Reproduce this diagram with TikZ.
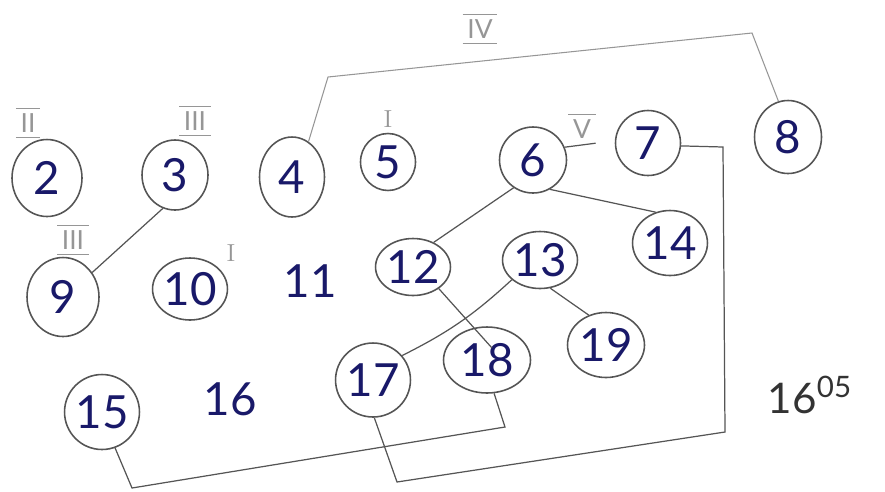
\documentclass[tikz,border=0pt]{standalone}
\usepackage{fontspec}
\setsansfont{Lato}
\usetikzlibrary{shapes.geometric}
\definecolor{inkblue}{RGB}{25,25,105}
\definecolor{pencil}{RGB}{85,85,85}
\definecolor{faintpencil}{RGB}{150,150,150}

\begin{document}
\begin{tikzpicture}[x=0.02cm,y=-0.02cm,
  vtx/.style 2 args={ellipse,draw=pencil,line width=0.9pt,inner sep=0pt,
    minimum width=#1,minimum height=#2,text=inkblue,
    font=\sffamily\fontsize{26}{26}\selectfont},
  num/.style={text=inkblue,font=\sffamily\fontsize{26}{26}\selectfont},
  rom/.style={text=faintpencil,inner sep=2.5pt,font=\sffamily\fontsize{15}{15}\selectfont},
  overbar/.style={append after command={(\tikzlastnode.north west) edge[faintwire] (\tikzlastnode.north east)}},
  barred/.style={overbar,append after command={(\tikzlastnode.south west) edge[faintwire] (\tikzlastnode.south east)}},
  wire/.style={draw=pencil,line width=0.7pt},
  faintwire/.style={draw=faintpencil,line width=0.6pt}]
\useasboundingbox (0,0) rectangle (885,491);
  % vertices
  \node[vtx={1.4cm}{1.54cm}]  (n2)  at (47,178)  {2};
  \node[vtx={1.32cm}{1.4cm}]  (n3)  at (175,175) {3};
  \node[vtx={1.3cm}{1.6cm}]   (n4)  at (292,177) {4};
  \node[vtx={1.1cm}{1.14cm}]  (n5)  at (388,162) {5};
  \node[vtx={1.34cm}{1.32cm}] (n6)  at (533,160) {6};
  \node[vtx={1.3cm}{1.3cm}]   (n7)  at (648,143) {7};
  \node[vtx={1.34cm}{1.46cm}] (n8)  at (788,137) {8};
  \node[vtx={1.44cm}{1.58cm}] (n9)  at (63,297)  {9};
  \node[vtx={1.3cm}{1.24cm}]  (n10) at (190,289) {10};
  \node[num]                  (n11) at (310,281) {11};
  \node[vtx={1.26cm}{1.14cm}] (n12) at (413,267) {12};
  \node[vtx={1.3cm}{1.14cm}]  (n13) at (540,260) {13};
  \node[vtx={1.36cm}{1.3cm}]  (n14) at (670,243) {14};
  \node[vtx={1.46cm}{1.5cm}]  (n15) at (102,412) {15};
  \node[num]                  (n16) at (230,399) {16};
  \node[vtx={1.34cm}{1.48cm}] (n17) at (373,380) {17};
  \node[vtx={1.74cm}{1.32cm}] (n18) at (487,360) {18};
  \node[vtx={1.54cm}{1.3cm}]  (n19) at (606,345) {19};
  % level marks
  \node[rom,barred]  (r2)  at (28,123)  {II};
  \node[rom,barred]  (r3)  at (195,121) {III};
  \node[rom,barred]  (r9)  at (73,240)  {III};
  \node[rom,barred]  (r8)  at (480,29)  {IV};
  \node[rom,overbar] (r6)  at (582,129) {V};
  \node[rom,font=\rmfamily\fontsize{14}{14}\selectfont] (r5)  at (388,119) {I};
  \node[rom,font=\rmfamily\fontsize{14}{14}\selectfont] (r10) at (231,253) {I};
  \node[text=black!80,font=\sffamily\fontsize{24}{24}\selectfont] (tot) at (810,395) {16\textsuperscript{05}};
  % bends of the long links
  \coordinate (ta) at (328,77);
  \coordinate (tb) at (752,33);
  \coordinate (ra) at (723,147);
  \coordinate (rb) at (725,432);
  \coordinate (rc) at (397,482);
  \coordinate (la) at (505,427);
  \coordinate (lb) at (132,488);
  % links
  \draw[wire] (n3.250) -- (n9.40);
  \draw[faintwire] (n4.65) -- (ta) -- (tb) -- (n8.105);
  \draw[wire] (n6.235) -- (n12.50);
  \draw[wire] (n6.300) -- (n14.115);
  \draw[wire] (n6.22) -- (r6.south east);
  \draw[wire] (n7.355) -- (ra) -- (rb) -- (rc) -- (n17.272);
  \draw[wire] (n18.282) -- (la) -- (lb) -- (n15.290);
  \draw[wire] (n12.320) -- ([shift={(5,-12)}]n18.center);
  \draw[wire] (n13.215) to[bend left=8] (n17.40);
  \draw[wire] (n13.290) -- (n19.120);
\end{tikzpicture}
\end{document}
